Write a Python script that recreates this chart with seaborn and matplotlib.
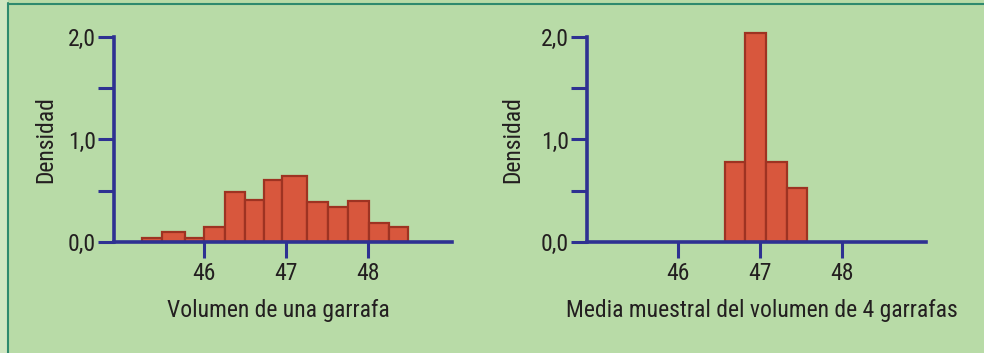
import numpy as np
import pandas as pd
import matplotlib
matplotlib.use("Agg")
import matplotlib.pyplot as plt
from matplotlib import font_manager
from matplotlib.patches import Rectangle
from matplotlib.lines import Line2D
import seaborn as sns

# ---- data ----
left_edges = [45.24, 45.49, 45.76, 46.0, 46.25, 46.5, 46.73, 46.95, 47.25, 47.51, 47.75, 48.01, 48.25, 48.48]
left_density = [0.04, 0.10, 0.04, 0.15, 0.49, 0.41, 0.60, 0.64, 0.39, 0.34, 0.40, 0.19, 0.15]
right_edges = [46.58, 46.82, 47.07, 47.33, 47.58]
right_density = [0.78, 2.04, 0.78, 0.53]
x_ticks = [46, 47, 48]
x_tick_labels = ["46", "47", "48"]
y_ticks = [0.0, 1.0, 2.0]
y_tick_labels = ["0,0", "1,0", "2,0"]
y_minor_ticks = [0.5, 1.5]
y_label = "Densidad"
x_label_left = "Volumen de una garrafa"
x_label_right = "Media muestral del volumen de 4 garrafas"

sns.set_theme(style="white")
available = {f.name for f in font_manager.fontManager.ttflist}
fam = [f for f in ["Liberation Sans Narrow", "Roboto Condensed", "Roboto", "DejaVu Sans"] if f in available]
plt.rcParams["font.family"] = fam + ["DejaVu Sans"]

BG = "#b8dba7"
BAR = "#d8573d"
BAR_EDGE = "#9e3322"
AXIS = "#2e3192"
TXT = "#231f20"
FS = 17

fig = plt.figure(figsize=(9.84, 3.53), dpi=100, facecolor=BG)

# decorative frame
fig.patches.append(Rectangle((0, 0), 7 / 984, 1, transform=fig.transFigure, color="#d0e7c2", zorder=0))
fig.lines.append(Line2D([7.5 / 984, 7.5 / 984], [0, 1 - 3 / 353], transform=fig.transFigure, color="#2f8a6e", lw=1.5))
fig.lines.append(Line2D([7.5 / 984, 1], [1 - 3.5 / 353, 1 - 3.5 / 353], transform=fig.transFigure, color="#2f8a6e", lw=1.5))


def panel(rect, edges, dens, xlabel, red_tick=None):
    ax = fig.add_axes(rect)
    ax.set_facecolor(BG)
    e = np.asarray(edges, dtype=float)
    centers = (e[:-1] + e[1:]) / 2
    df = pd.DataFrame({"x": centers, "w": np.asarray(dens, dtype=float)})
    sns.histplot(data=df, x="x", weights="w", bins=list(edges), stat="count",
                 color=BAR, edgecolor=BAR_EDGE, linewidth=1.6, alpha=1, ax=ax)
    ax.set_xlim(44.9, 49.02)
    ax.set_ylim(0, 2.1)
    for s in ["top", "right"]:
        ax.spines[s].set_visible(False)
    for s in ["left", "bottom"]:
        ax.spines[s].set_color(AXIS)
        ax.spines[s].set_linewidth(2.6)
    ax.spines["left"].set_bounds(0, 2.0)
    ax.set_xticks(x_ticks)
    ax.set_xticklabels(x_tick_labels)
    ax.set_yticks(y_ticks)
    ax.set_yticklabels(y_tick_labels)
    ax.set_yticks(y_minor_ticks, minor=True)
    ax.tick_params(axis="both", which="both", direction="out", length=11.5, width=2.2,
                   color=AXIS, labelcolor=TXT, labelsize=FS, pad=1.5)
    ax.tick_params(axis="x", pad=3)
    ax.tick_params(left=True, bottom=True, which="both")
    ax.set_ylabel(y_label, fontsize=FS, color=TXT)
    ax.set_xlabel(xlabel, fontsize=FS, color=TXT)
    ax.grid(False)
    if red_tick is not None:
        lines = ax.get_xticklines()
        lines[2 * red_tick].set_color(BAR_EDGE)
    return ax


axL = panel([114 / 984, 111 / 353, 338 / 984, 0.6098], left_edges, left_density, x_label_left, red_tick=0)
axR = panel([587.3 / 984, 111 / 353, 338.4 / 984, 0.6098], right_edges, right_density, x_label_right)

# label positions (pixel-based)
def place_labels(ax, xlab_px, ylab_px):
    inv = ax.transAxes.inverted()
    fx, fy = inv.transform((xlab_px, 353 - 311))
    ax.xaxis.set_label_coords(fx, fy)
    ax.xaxis.label.set_va("center")
    gx, gy = inv.transform((ylab_px, 353 - 140))
    ax.yaxis.set_label_coords(gx, gy)
    ax.yaxis.label.set_va("center")

fig.canvas.draw()
place_labels(axL, 278, 46)
place_labels(axR, 762, 513)

fig.savefig("out.png", dpi=100, facecolor=BG)
